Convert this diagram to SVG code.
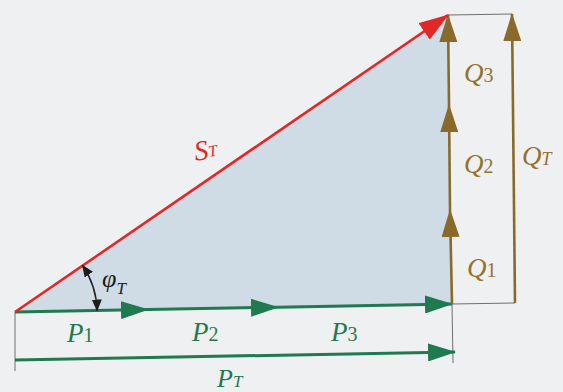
<svg xmlns="http://www.w3.org/2000/svg" width="563" height="392" viewBox="0 0 563 392">
<style>
text{font-family:"Liberation Serif","DejaVu Serif","Times New Roman",serif;font-style:italic}
.sub{font-style:normal}
.P{fill:#1f7a4f}
.Q{fill:#94722e}
.thin{stroke:#6f6f6f;stroke-width:1;fill:none}
.pl{stroke:#1f7a4f;stroke-width:3;fill:none}
.ql{stroke:#8a6a2a;stroke-width:2.6;fill:none}
</style>
<defs>
<marker id="ag" markerUnits="userSpaceOnUse" markerWidth="28" markerHeight="18" viewBox="0 0 28 18" refX="27" refY="9" orient="auto"><path d="M0,0 L28,9 L0,18 z" fill="#1f7a4f"/></marker>
<marker id="aq" markerUnits="userSpaceOnUse" markerWidth="28" markerHeight="18" viewBox="0 0 28 18" refX="27" refY="9" orient="auto"><path d="M0,0 L28,9 L0,18 z" fill="#8a6a2a"/></marker>
<marker id="ar" markerUnits="userSpaceOnUse" markerWidth="30" markerHeight="20" viewBox="0 0 30 20" refX="29" refY="10" orient="auto"><path d="M0,0 L30,10 L0,20 z" fill="#e32626"/></marker>
<marker id="ak" markerUnits="userSpaceOnUse" markerWidth="12" markerHeight="10" viewBox="0 0 12 10" refX="11" refY="5" orient="auto-start-reverse"><path d="M0,0 L12,5 L0,10 z" fill="#1c1c1c"/></marker>
</defs>
<rect width="563" height="392" fill="#eff0f1"/>
<polygon id="triangle" points="15,312 448,15 452,304" fill="#cfdce6"/>
<g id="connectors">
<line class="thin" x1="15" y1="312" x2="15" y2="371"/>
<line class="thin" x1="452" y1="304" x2="453" y2="363"/>
<line class="thin" x1="448" y1="15" x2="512" y2="14"/>
<line class="thin" x1="452" y1="304" x2="515" y2="303"/>
<line class="pl" x1="15" y1="312" x2="148" y2="309.6" marker-end="url(#ag)"/>
<line class="pl" x1="148" y1="309.6" x2="278" y2="307.2" marker-end="url(#ag)"/>
<line class="pl" x1="278" y1="307.2" x2="452" y2="304" marker-end="url(#ag)"/>
<line class="pl" x1="15" y1="360" x2="455" y2="352" marker-end="url(#ag)"/>
<line class="ql" x1="452" y1="304" x2="450" y2="210" marker-end="url(#aq)"/>
<line class="ql" x1="450" y1="210" x2="449" y2="105" marker-end="url(#aq)"/>
<line class="ql" x1="449" y1="105" x2="448" y2="15" marker-end="url(#aq)"/>
<line class="ql" x1="515" y1="303" x2="512" y2="14" marker-end="url(#aq)"/>
<line x1="15" y1="312" x2="448" y2="15" stroke="#e32626" stroke-width="2.6" marker-end="url(#ar)"/>
<path d="M82.6,265.6 A82,82 0 0 1 97,310.5" fill="none" stroke="#1c1c1c" stroke-width="1.5" marker-start="url(#ak)" marker-end="url(#ak)"/>
</g>
<g id="ST"><text x="194" y="160" font-size="28" fill="#e32626" transform="rotate(-8 200 150)">S<tspan font-size="16" dy="-2">T</tspan></text></g>
<g id="phiT"><text x="102" y="287" font-size="26" fill="#1c1c1c">φ<tspan font-size="17" dy="7">T</tspan></text></g>
<g id="P1"><text class="P" x="67" y="342" font-size="27">P<tspan class="sub" font-size="20">1</tspan></text></g>
<g id="P2"><text class="P" x="192" y="341" font-size="27">P<tspan class="sub" font-size="20">2</tspan></text></g>
<g id="P3"><text class="P" x="331" y="341" font-size="27">P<tspan class="sub" font-size="20">3</tspan></text></g>
<g id="PT"><text class="P" x="217" y="387" font-size="26">P<tspan font-size="17">T</tspan></text></g>
<g id="Q3"><text class="Q" x="464" y="82" font-size="27">Q<tspan class="sub" font-size="20">3</tspan></text></g>
<g id="Q2"><text class="Q" x="464" y="173" font-size="27">Q<tspan class="sub" font-size="20">2</tspan></text></g>
<g id="Q1"><text class="Q" x="467" y="277" font-size="27">Q<tspan class="sub" font-size="20">1</tspan></text></g>
<g id="QT"><text class="Q" x="522" y="165" font-size="27">Q<tspan font-size="18">T</tspan></text></g>
</svg>
